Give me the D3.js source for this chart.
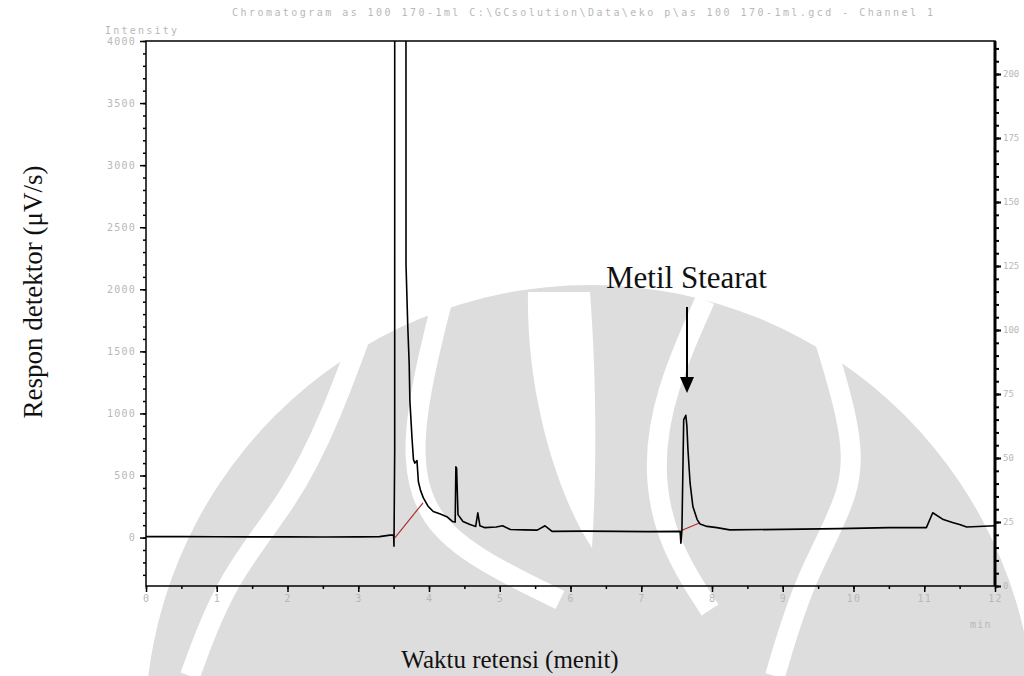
<!DOCTYPE html>
<html>
<head>
<meta charset="UTF-8">
<script src="https://d3js.org/d3.v7.min.js"></script>
<style>
  body { margin: 0; background: #fff; }
  svg { display: block; }
  .tick text { font-family: "DejaVu Sans Mono", monospace; font-size: 10px; fill: #b8b8b8; }
  .small { font-family: "DejaVu Sans Mono", monospace; font-size: 10px; fill: #b8b8b8; }
  .serif { font-family: "Liberation Serif", "Times New Roman", serif; fill: #111; }
</style>
</head>
<body>
<svg width="1024" height="676"></svg>
<script>
// retention time (min) and detector response (uV/s)
const timeMin = [0, 0.5, 1, 1.5, 2, 2.5, 3, 3.3, 3.45, 3.5, 3.505, 3.515, 3.52, 3.665, 3.675, 3.70, 3.72, 3.73, 3.76, 3.78,
  3.80, 3.83, 3.85, 3.88, 3.92, 3.99, 4.06, 4.16, 4.26, 4.33, 4.37, 4.38, 4.39, 4.41, 4.48, 4.58, 4.66, 4.69, 4.72, 4.79,
  4.95, 5.04, 5.15, 5.35, 5.53, 5.64, 5.74, 6.2, 6.66, 7.1, 7.55, 7.56, 7.575, 7.60, 7.63, 7.645, 7.66, 7.69, 7.73, 7.79,
  7.83, 7.93, 8.07, 8.25, 9.0, 9.8, 10.5, 11.03, 11.12, 11.27, 11.41, 11.5, 11.6, 12];
const intensity = [8, 8, 7, 6, 6, 5, 6, 8, 20, 20, -70, 700, 40000, 40000, 2200, 1700, 1400, 1100, 800, 630,
  600, 620, 450, 380, 320, 250, 210, 190, 165, 130, 125, 570, 560, 185, 130, 105, 90, 200, 95, 80,
  85, 95, 65, 62, 60, 95, 50, 52, 50, 48, 50, -45, 60, 950, 985, 900, 710, 440, 250, 145,
  110, 90, 80, 62, 66, 72, 80, 80, 200, 145, 120, 105, 85, 95];

// integration baselines (red)
const baseT0 = [3.52, 7.56];
const baseV0 = [0, 55];
const baseT1 = [3.915, 7.83];
const baseV1 = [280, 120];

const xTicks = d3.range(0, 13, 1);
const yTicks = d3.range(0, 4001, 500);
const yRightTicks = d3.range(0, 201, 25);

const titleText = "Chromatogram as 100 170-1ml C:\\GCsolution\\Data\\eko p\\as 100 170-1ml.gcd - Channel 1";

const svg = d3.select("svg");
const L = 146, R = 995, T = 41, B = 586;

const x = d3.scaleLinear().domain([0, 12]).range([L, R]);
const y = d3.scaleLinear().domain([-390, 4000]).range([B, T]);
const yR = d3.scaleLinear().domain([0, 212.9]).range([B, T]);

// watermark (university logo, rough)
const wm = svg.append("g");
wm.append("circle").attr("cx", 590).attr("cy", 730).attr("r", 445).attr("fill", "#dddddd");
const band = d3.line().curve(d3.curveBasis);
[
  [[445, 290], [422, 380], [411, 460], [428, 520], [478, 560], [560, 600]],
  [[370, 310], [330, 420], [290, 500], [225, 580], [190, 676]],
  [[815, 310], [850, 420], [855, 490], [805, 575], [775, 676]],
  [[705, 300], [665, 390], [652, 470], [668, 545], [710, 610]]
].forEach(p => {
  wm.append("path").attr("d", band(p)).attr("fill", "none").attr("stroke", "#fff").attr("stroke-width", 20);
});
wm.append("path").attr("d", "M528,292 C526,400 560,500 592,548 C598,450 595,360 590,292 Z").attr("fill", "#fff");

svg.append("defs").append("clipPath").attr("id", "plot")
  .append("rect").attr("x", L).attr("y", T).attr("width", R - L).attr("height", B - T);

// title
svg.append("text").attr("class", "small").attr("x", 232).attr("y", 16)
  .attr("textLength", 701).attr("lengthAdjust", "spacing").text(titleText);
svg.append("text").attr("class", "small").attr("x", 105).attr("y", 34)
  .attr("textLength", 72).attr("lengthAdjust", "spacing").text("Intensity");

// axes
const styleAxis = (g, w) => {
  g.select(".domain").remove();
  g.selectAll("line").attr("stroke", "#000").attr("stroke-width", w);
};
svg.append("g").attr("transform", `translate(${L},0)`)
  .call(d3.axisLeft(y).tickValues(d3.range(-300, 4001, 100)).tickSize(3).tickFormat(""))
  .call(g => styleAxis(g, 1.5));
svg.append("g").attr("transform", `translate(${L},0)`)
  .call(d3.axisLeft(y).tickValues(yTicks).tickSize(6).tickPadding(4).tickFormat(d3.format("d")))
  .call(g => styleAxis(g, 1.5))
  .call(g => g.selectAll("text").attr("letter-spacing", 1.2));

svg.append("g").attr("transform", `translate(${R},0)`)
  .call(d3.axisRight(yR).tickValues(d3.range(0, 211, 5)).tickSize(4).tickFormat(""))
  .call(g => styleAxis(g, 2));
svg.append("g").attr("transform", `translate(${R},0)`)
  .call(d3.axisRight(yR).tickValues(yRightTicks).tickSize(6).tickPadding(2).tickFormat(d3.format("d")))
  .call(g => styleAxis(g, 2))
  .call(g => g.selectAll("text").style("font-size", "9px"));

svg.append("g").attr("transform", `translate(0,${B})`)
  .call(d3.axisBottom(x).tickValues(d3.range(0, 12.01, 0.5)).tickSize(3).tickFormat(""))
  .call(g => styleAxis(g, 1.5));
svg.append("g").attr("transform", `translate(0,${B})`)
  .call(d3.axisBottom(x).tickValues(xTicks).tickSize(6).tickPadding(3).tickFormat(d3.format("d")))
  .call(g => styleAxis(g, 1.5))
  .call(g => g.selectAll("text").attr("letter-spacing", 1.2));

svg.append("text").attr("class", "small").attr("x", 970).attr("y", 628).attr("letter-spacing", 1.2).text("min");

// frame
svg.append("rect").attr("x", L).attr("y", T).attr("width", R - L).attr("height", B - T)
  .attr("fill", "none").attr("stroke", "#000").attr("stroke-width", 1.5);
svg.append("line").attr("x1", R).attr("x2", R).attr("y1", T).attr("y2", B)
  .attr("stroke", "#000").attr("stroke-width", 3);

const plot = svg.append("g").attr("clip-path", "url(#plot)");

// red baselines
plot.selectAll(".base").data(baseT0).join("line").attr("class", "base")
  .attr("x1", (d, i) => x(d)).attr("y1", (d, i) => y(baseV0[i]))
  .attr("x2", (d, i) => x(baseT1[i])).attr("y2", (d, i) => y(baseV1[i]))
  .attr("stroke", "#b03030").attr("stroke-width", 1.2);

// trace
const pts = timeMin.map((t, i) => [t, intensity[i]]);
plot.append("path").datum(pts)
  .attr("d", d3.line().x(d => x(d[0])).y(d => y(d[1])))
  .attr("fill", "none").attr("stroke", "#000").attr("stroke-width", 1.6).attr("stroke-linejoin", "round");

// annotations
svg.append("text").attr("class", "serif").attr("font-size", 31).attr("x", 606).attr("y", 288).text("Metil Stearat");
svg.append("line").attr("x1", 687).attr("x2", 687).attr("y1", 307).attr("y2", 380)
  .attr("stroke", "#000").attr("stroke-width", 2);
svg.append("path").attr("d", "M680,377 L694,377 L687,393 Z").attr("fill", "#000");

svg.append("text").attr("class", "serif").attr("font-size", 25).attr("text-anchor", "middle")
  .attr("x", 510).attr("y", 668).text("Waktu retensi (menit)");
svg.append("text").attr("class", "serif").attr("font-size", 27).attr("text-anchor", "middle")
  .attr("transform", "translate(42,292) rotate(-90)").text("Respon detektor (\u03bcV/s)");
</script>
</body>
</html>
